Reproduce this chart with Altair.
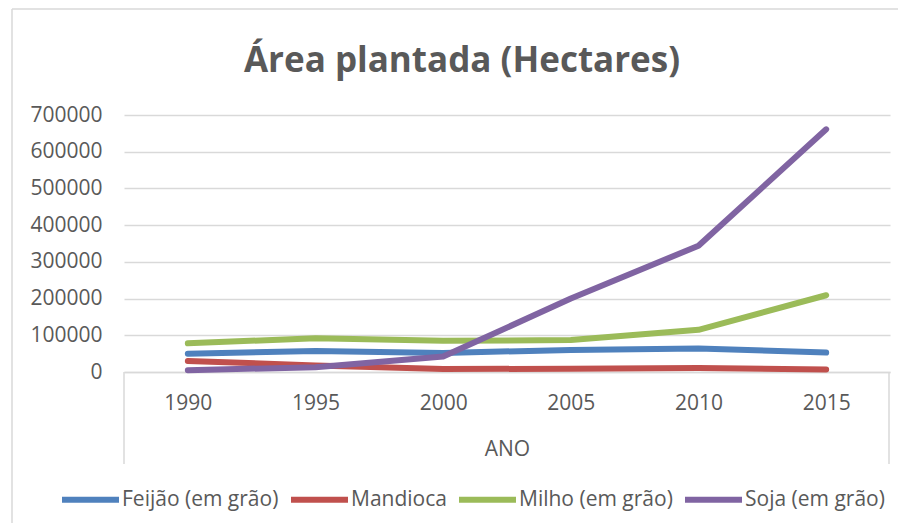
import altair as alt
import pandas as pd

years = ["1990", "1995", "2000", "2005", "2010", "2015"]
series = ["Feijão (em grão)", "Mandioca", "Milho (em grão)", "Soja (em grão)"]
feijao = [50000, 57000, 52000, 60000, 64000, 53000]
mandioca = [30000, 18000, 8000, 9000, 11000, 7000]
milho = [78000, 92000, 85000, 87000, 115000, 209000]
soja = [5000, 13000, 42000, 200000, 344000, 661000]
colors = ["#4f81bd", "#c0504d", "#9bbb59", "#8064a2"]
y_ticks = [0, 100000, 200000, 300000, 400000, 500000, 600000, 700000]

rows = []
for name, vals in zip(series, [feijao, mandioca, milho, soja]):
    for yr, v in zip(years, vals):
        rows.append({"ANO": yr, "Cultura": name, "Área": v})
df = pd.DataFrame(rows)

W, H = 766, 257
GRAY = "#595959"
LINE = "#d9d9d9"

lines = alt.Chart(df).mark_line(strokeWidth=6, strokeCap="round", strokeJoin="round").encode(
    x=alt.X("ANO:O", sort=years,
            scale=alt.Scale(type="point", padding=0.5),
            axis=alt.Axis(title="ANO", labelAngle=0, ticks=False, tickSize=0, grid=False,
                          domainColor=LINE, domainWidth=1.5,
                          labelFontSize=21, labelColor=GRAY, labelPadding=31,
                          labelBaseline="middle",
                          titleFontSize=21, titleFontWeight="normal", titleColor=GRAY,
                          titleY=77, titleBaseline="middle")),
    y=alt.Y("Área:Q", scale=alt.Scale(domain=[0, 700000], nice=False),
            axis=alt.Axis(title=None, values=y_ticks, format="d", ticks=False, tickSize=0,
                          domain=False, gridColor=LINE, gridWidth=1.5,
                          labelFontSize=21, labelColor=GRAY, labelPadding=22)),
    color=alt.Color("Cultura:N", sort=series,
                    scale=alt.Scale(domain=series, range=colors),
                    legend=alt.Legend(title=None, orient="none", direction="horizontal",
                                      legendX=-65, legendY=353,
                                      symbolType="stroke", symbolSize=3249,
                                      symbolStrokeWidth=6, labelFontSize=21,
                                      labelColor=GRAY, labelOffset=0, columnPadding=0,
                                      labelLimit=400, padding=0)),
    order=alt.Order("ANO:O"),
)

one = pd.DataFrame({"k": [0]})
side_l = alt.Chart(one).mark_rule(color=LINE, strokeWidth=1.5).encode(
    x=alt.value(0), y=alt.value(H), y2=alt.value(H + 92))
side_r = alt.Chart(one).mark_rule(color=LINE, strokeWidth=1.5).encode(
    x=alt.value(W - 1), y=alt.value(H), y2=alt.value(H + 92))
border_top = alt.Chart(one).mark_rule(color=LINE, strokeWidth=1.5).encode(
    x=alt.value(-112), x2=alt.value(W + 40), y=alt.value(-106))
border_left = alt.Chart(one).mark_rule(color=LINE, strokeWidth=1.5).encode(
    x=alt.value(-112), y=alt.value(-106), y2=alt.value(H + 200))
title = alt.Chart(one).mark_text(text="Área plantada (Hectares)", fontSize=35,
                                 fontWeight="bold", color=GRAY, align="center",
                                 baseline="alphabetic").encode(
    x=alt.value(338), y=alt.value(-43))

chart = alt.layer(border_top, border_left, side_l, side_r, lines, title).properties(
    width=W, height=H,
    autosize=alt.AutoSizeParams(type="none"),
    padding={"left": 116, "top": 107, "right": 8, "bottom": 151},
).configure(font="Open Sans").configure_view(stroke=None)

chart.save("out.html", embed_options={"renderer": "svg", "actions": False})
